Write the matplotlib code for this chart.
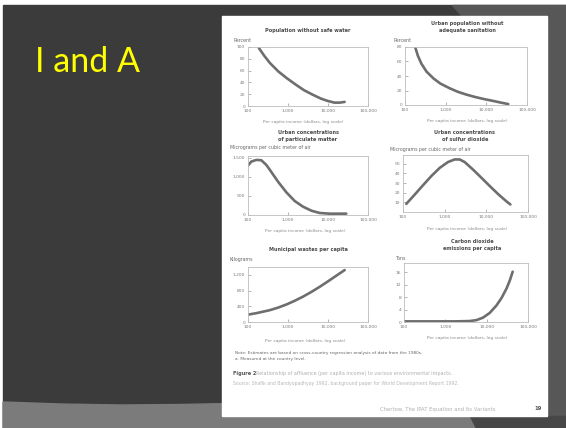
import matplotlib
matplotlib.use("Agg")
import matplotlib.pyplot as plt
from matplotlib.patches import Polygon, Rectangle
from matplotlib.ticker import FixedLocator, NullLocator

W, H = 566, 428

# ---------------- data ----------------
slide_title = "I and A"

income_water = [187, 255, 356, 579, 944, 1536, 2500, 4070, 6630, 9810, 14500, 19400, 26000]
water = [98.3, 85.1, 72.6, 58.3, 46.9, 36.6, 26.9, 19.4, 12.6, 8.6, 5.7, 5.7, 6.9]

income_sanit = [180, 207, 253, 339, 505, 743, 1220, 1990, 3250, 5330, 8710, 14200, 23300, 34600]
sanit = [79, 68, 57, 46, 36.5, 29.5, 23.4, 18.2, 14.3, 11.0, 8.2, 5.8, 3.2, 1.3]

income_pm = [100, 121, 162, 215, 287, 348, 562, 910, 1470, 2370, 3830, 6190, 10900, 28700]
pm = [1298, 1404, 1447, 1439, 1316, 1193, 877, 596, 368, 219, 114, 53, 35, 35]

income_so2 = [120, 190, 302, 479, 758, 1200, 1740, 2290, 3020, 4790, 7590, 12000, 19100, 30200, 37800]
so2 = [8.4, 17.9, 27.7, 37.2, 45.6, 51.7, 54.4, 54.4, 51.7, 43.9, 35.5, 27.0, 18.6, 11.1, 7.8]

income_waste = [100, 162, 348, 562, 910, 1470, 2370, 3830, 6190, 10000, 16200, 26100]
waste = [187, 225, 300, 365, 445, 540, 645, 765, 895, 1035, 1180, 1322]

income_co2 = [100, 280, 710, 1810, 3860, 5640, 8150, 11800, 17200, 22800, 30300, 36600, 42600]
co2 = [0.2, 0.2, 0.2, 0.2, 0.3, 0.6, 1.4, 2.9, 5.3, 7.7, 10.8, 13.5, 16.2]

x_ticks = [100, 1000, 10000, 100000]
x_ticklabels = ["100", "1,000", "10,000", "100,000"]
x_label = "Per capita income (dollars, log scale)"

titles = ["Population without safe water",
          "Urban population without\nadequate sanitation",
          "Urban concentrations\nof particulate matter",
          "Urban concentrations\nof sulfur dioxide",
          "Municipal wastes per capita",
          "Carbon dioxide\nemissions per capita"]
y_labels = ["Percent", "Percent",
            "Micrograms per cubic meter of air",
            "Micrograms per cubic meter of air",
            "Kilograms", "Tons"]
y_ticks = [[0, 20, 40, 60, 80, 100], [0, 20, 40, 60, 80], [0, 500, 1000, 1500],
           [10, 20, 30, 40, 50], [0, 400, 800, 1200], [0, 4, 8, 12, 16]]
y_ticklabels = [["0", "20", "40", "60", "80", "100"], ["0", "20", "40", "60", "80"],
                ["0", "500", "1,000", "1,500"], ["10", "20", "30", "40", "50"],
                ["0", "400", "800", "1,200"], ["0", "4", "8", "12", "16"]]
y_lims = [(0, 100), (0, 80), (0, 1550), (0, 59), (0, 1400), (0, 19)]

note_lines = ["Note: Estimates are based on cross-country regression analysis of data from the 1980s.",
              "a. Measured at the country level."]
caption_bold = "Figure 2"
caption_lines = ["Relationship of affluence (per capita income) to various environmental impacts.",
                 "Source: Shafik and Bandyopadhyay 1992, background paper for World Development Report 1992."]
footer = "Chertow, The IPAT Equation and Its Variants"
page_no = "19"

# ---------------- figure ----------------
fig = plt.figure(figsize=(W / 100, H / 100), dpi=100)
fig.patch.set_facecolor("white")

bg = fig.add_axes([0, 0, 1, 1])
bg.set_xlim(0, W)
bg.set_ylim(H, 0)
bg.axis("off")

# slide background
bg.add_patch(Rectangle((3, 5), W - 3, H - 5, color="#3b3b3b", zorder=0))
bg.add_patch(Polygon([(452, 5), (W, 5), (W, 417), (462, 417), (462, 16)], closed=True,
                     color="#575757", zorder=1))
# bottom light band (slightly curved top edge)
band = [(3, 402), (60, 404), (120, 405), (180, 404.5), (230, 403.5), (300, 410),
        (470, 416), (476, H), (3, H)]
bg.add_patch(Polygon(band, closed=True, color="#7b7b7b", zorder=2))
bg.add_patch(Polygon([(470, 416), (W, 416), (W, H), (476, H)], closed=True,
                     color="#474747", zorder=2))
# page
bg.add_patch(Rectangle((222, 16), 547 - 222, 416 - 16, color="white", zorder=3))

bg.text(35, 72, slide_title, color="#ffff00", fontsize=24.5, family="Lato",
        ha="left", va="baseline", zorder=5)

# ---------------- subplots ----------------
boxes = [(248, 47, 368, 106), (405, 47, 527, 105),
         (248, 156, 368, 215), (403, 155, 528, 212),
         (248, 267, 368, 322), (404, 263, 528, 322)]
series = [(income_water, water), (income_sanit, sanit), (income_pm, pm),
          (income_so2, so2), (income_waste, waste), (income_co2, co2)]
title_pos = [(308, 30), (467, 27), (308, 136), (465, 136), (308, 249), (472, 245)]
ylabel_pos = [(233, 40), (393, 40), (230, 148), (390, 149), (230, 259), (396, 258)]
xlabel_pos = [(303, 122), (467, 121), (305, 231), (467, 229), (305, 341), (467, 338)]

for i, (x0, y0, x1, y1) in enumerate(boxes):
    ax = fig.add_axes([x0 / W, 1 - y1 / H, (x1 - x0) / W, (y1 - y0) / H])
    ax.set_facecolor("white")
    xs, ys = series[i]
    ax.plot(xs, ys, color="#6e6e6e", lw=1.9, solid_capstyle="round",
            solid_joinstyle="round")
    ax.set_xscale("log")
    ax.set_xlim(100, 100000)
    ax.set_ylim(*y_lims[i])
    ax.xaxis.set_major_locator(FixedLocator(x_ticks))
    ax.xaxis.set_minor_locator(NullLocator())
    ax.set_xticklabels(x_ticklabels)
    ax.set_yticks(y_ticks[i])
    ax.set_yticklabels(y_ticklabels[i])
    ax.tick_params(axis="both", direction="in", length=2, width=0.5, color="#999999",
                   labelsize=3.2, labelcolor="#7a7a7a", pad=2)
    for s in ax.spines.values():
        s.set_color("#bdbdbd")
        s.set_linewidth(0.6)
    tx, ty = title_pos[i]
    bg.text(tx, ty, titles[i], ha="center", va="center", fontsize=3.6,
            color="#4a4a4a", fontweight="bold", linespacing=1.3, zorder=5)
    lx, ly = ylabel_pos[i]
    bg.text(lx, ly, y_labels[i], ha="left", va="center", fontsize=3.4,
            color="#666666", zorder=5)
    xx, xy = xlabel_pos[i]
    bg.text(xx, xy, x_label, ha="center", va="center", fontsize=3.2,
            color="#8a8a8a", zorder=5)

# ---------------- notes / caption / footer ----------------
bg.text(235, 353, note_lines[0], ha="left", va="center", fontsize=3.1, color="#666666", zorder=5)
bg.text(235, 359, note_lines[1], ha="left", va="center", fontsize=3.1, color="#666666", zorder=5)
bg.text(233, 373, caption_bold, ha="left", va="center", fontsize=3.6, color="#555555",
        fontweight="bold", zorder=5)
bg.text(256, 373, caption_lines[0], ha="left", va="center", fontsize=3.5, color="#b0b0b0", zorder=5)
bg.text(233, 383, caption_lines[1], ha="left", va="center", fontsize=3.3, color="#b8b8b8", zorder=5)
bg.text(380, 409, footer, ha="left", va="center", fontsize=3.8, color="#b0b0b0", zorder=5)
bg.text(538, 409, page_no, ha="center", va="center", fontsize=3.8, color="#555555",
        fontweight="bold", zorder=5)

fig.savefig("out.png", dpi=100, facecolor=fig.get_facecolor())
